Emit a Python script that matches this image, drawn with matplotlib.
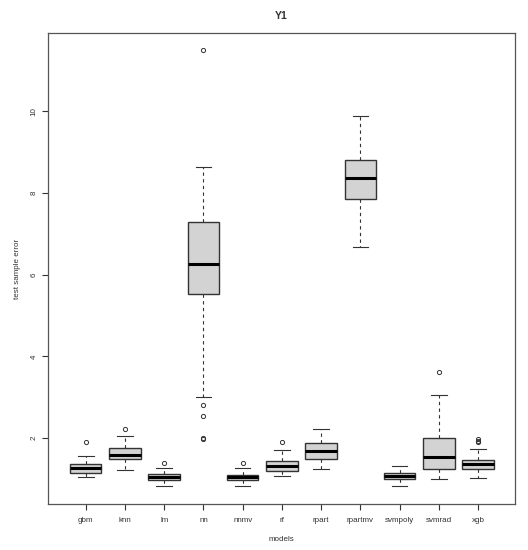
import matplotlib
matplotlib.use("Agg")
import matplotlib.pyplot as plt

plt.rcParams['font.family'] = ['Liberation Sans', 'DejaVu Sans']

# box statistics (R boxplot)
models = ['gbm', 'knn', 'lm', 'nn', 'nnmv', 'rf', 'rpart', 'rpartmv', 'svmpoly', 'svmrad', 'xgb']
whislo = [1.05, 1.22, 0.82, 3.00, 0.82, 1.08, 1.24, 6.67, 0.82, 1.01, 1.03]
q1 = [1.16, 1.49, 0.97, 5.52, 0.97, 1.19, 1.50, 7.84, 1.00, 1.235, 1.235]
med = [1.27, 1.60, 1.05, 6.25, 1.05, 1.32, 1.68, 8.37, 1.08, 1.53, 1.37]
q3 = [1.36, 1.75, 1.13, 7.28, 1.10, 1.445, 1.885, 8.80, 1.14, 2.01, 1.46]
whishi = [1.57, 2.06, 1.28, 8.63, 1.28, 1.70, 2.22, 9.88, 1.33, 3.06, 1.74]
fliers = [[1.90], [2.22], [1.40], [11.49, 2.81, 2.55, 2.00, 1.97], [1.39], [1.90], [], [], [], [3.62],
          [1.90, 1.94, 1.98]]

stats = []
for i, name in enumerate(models):
    stats.append({'label': name, 'whislo': whislo[i], 'q1': q1[i], 'med': med[i],
                  'q3': q3[i], 'whishi': whishi[i], 'fliers': fliers[i]})

fig = plt.figure(figsize=(5.28, 5.5), dpi=100)
ax = fig.add_axes([48 / 528, 46 / 550, 467 / 528, 471 / 550])

edge = '#333333'
ax.bxp(stats, positions=range(1, len(models) + 1), widths=0.8, capwidths=0.4,
       patch_artist=True,
       boxprops=dict(facecolor='#d3d3d3', edgecolor=edge, linewidth=1.0),
       medianprops=dict(color='black', linewidth=2.2, solid_capstyle='butt'),
       whiskerprops=dict(color=edge, linewidth=0.8, linestyle=(0, (3, 3))),
       capprops=dict(color=edge, linewidth=0.8),
       flierprops=dict(marker='o', markersize=3, markerfacecolor='none',
                       markeredgecolor=edge, markeredgewidth=0.7))

ax.set_xlim(0.04, 11.94)
ax.set_ylim(0.39, 11.91)
ax.set_yticks([2, 4, 6, 8, 10])
ax.set_yticklabels(['2', '4', '6', '8', '10'], rotation=90, va='center')
ax.tick_params(labelsize=5.8, colors='#333333', length=4, width=0.8)
ax.tick_params(axis='x', pad=5)
for s in ax.spines.values():
    s.set_color('#555555')
    s.set_linewidth(0.9)

ax.set_xlabel('models', fontsize=5.8, color='#333333', labelpad=9)
ax.set_ylabel('test sample error', fontsize=5.8, color='#333333', labelpad=7)
ax.set_title('Y1', fontsize=7.5, fontweight='bold', color='#333333', pad=10)

fig.savefig('out.png', dpi=100)
